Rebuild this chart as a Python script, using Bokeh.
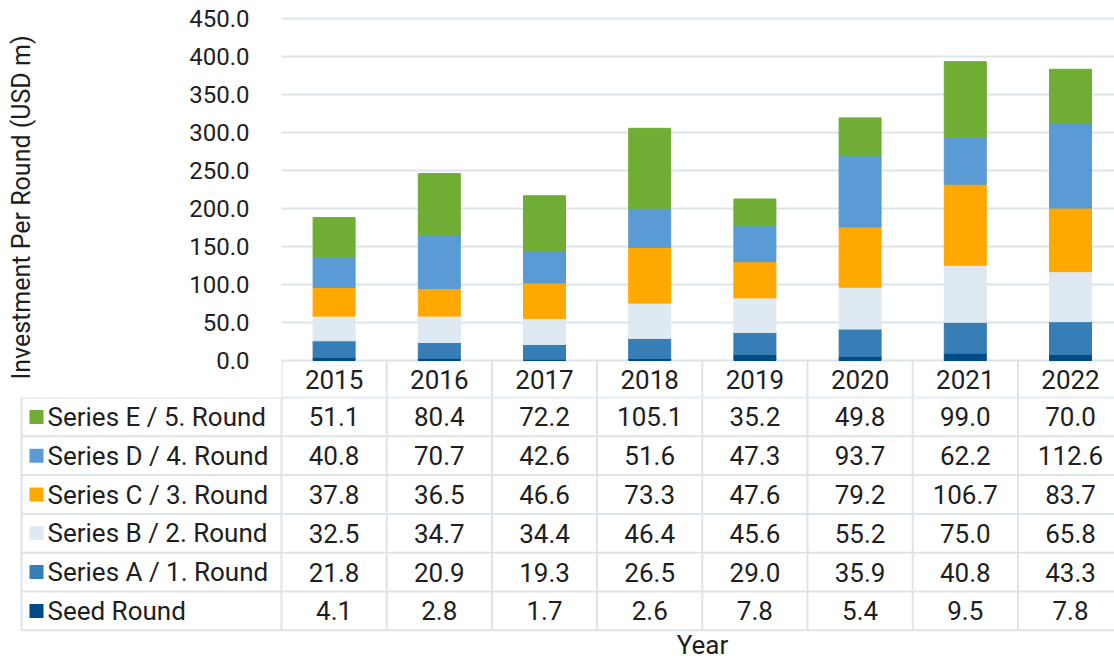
from bokeh.plotting import figure
from bokeh.layouts import column
from bokeh.models import Range1d, FixedTicker, NumeralTickFormatter, ColumnDataSource
from bokeh.core.properties import value
from bokeh.embed import file_html
from bokeh.resources import INLINE

# ---- data -------------------------------------------------------------
years = [2015, 2016, 2017, 2018, 2019, 2020, 2021, 2022]
seed_round = [4.1, 2.8, 1.7, 2.6, 7.8, 5.4, 9.5, 7.8]
series_a = [21.8, 20.9, 19.3, 26.5, 29.0, 35.9, 40.8, 43.3]
series_b = [32.5, 34.7, 34.4, 46.4, 45.6, 55.2, 75.0, 65.8]
series_c = [37.8, 36.5, 46.6, 73.3, 47.6, 79.2, 106.7, 83.7]
series_d = [40.8, 70.7, 42.6, 51.6, 47.3, 93.7, 62.2, 112.6]
series_e = [51.1, 80.4, 72.2, 105.1, 35.2, 49.8, 99.0, 70.0]

series_names = ["Seed Round", "Series A / 1. Round", "Series B / 2. Round",
                "Series C / 3. Round", "Series D / 4. Round", "Series E / 5. Round"]
series_colors = ["#004b87", "#377db6", "#dfe9f2", "#ffa800", "#5b9bd5", "#70ad34"]
y_ticks = [0, 50, 100, 150, 200, 250, 300, 350, 400, 450]

# ---- layout constants (pixels) ----------------------------------------
W = 1114
TOP_H = 397          # chart + header row of the table
BOT_H = 661 - TOP_H  # table body + x title
PLOT_LEFT = 281      # left edge of the plot area
PLOT_TOP = 17        # top edge of the plot frame
COL_W = 105.2        # width of one year column
PX_PER_UNIT = 0.76   # vertical scale of the value axis
ZERO_Y = 360         # pixel row of the value 0
ROW_H = 38.8         # table row height
TABLE_LEFT = 21

FONT = "Roboto"
TXT = "#1e1e1e"
GRID = "#dde4e9"
FS_TICK = "24px"
FS = "26px"

x0 = years[0] - 0.5
x_end = x0 + (W - PLOT_LEFT) / COL_W
y_start = -(TOP_H - ZERO_Y) / PX_PER_UNIT
y_end = (ZERO_Y - PLOT_TOP) / PX_PER_UNIT

keys = ["seed", "a", "b", "c", "d", "e"]
src = ColumnDataSource(dict(year=years, seed=seed_round, a=series_a, b=series_b,
                            c=series_c, d=series_d, e=series_e))

# ---- stacked bar chart -----------------------------------------------
p = figure(width=W, height=TOP_H, output_backend="svg", toolbar_location=None,
           x_range=Range1d(x0, x_end), y_range=Range1d(y_start, y_end),
           x_axis_location=None, min_border_left=PLOT_LEFT, min_border_right=0,
           min_border_top=PLOT_TOP, min_border_bottom=0, frame_align=False)
p.outline_line_color = None
p.xgrid.visible = False
p.ygrid.grid_line_color = GRID
p.ygrid.grid_line_width = 2

ax = p.yaxis[0]
ax.ticker = FixedTicker(ticks=y_ticks)
ax.formatter = NumeralTickFormatter(format="0.0")
ax.axis_line_color = None
ax.major_tick_line_color = None
ax.minor_tick_line_color = None
ax.major_label_standoff = 26
ax.major_label_text_font = FONT
ax.major_label_text_font_size = FS_TICK
ax.major_label_text_color = TXT
ax.axis_label = "Investment Per Round (USD m)"
ax.axis_label_text_font = FONT
ax.axis_label_text_font_size = "25px"
ax.axis_label_text_font_style = "normal"
ax.axis_label_text_color = TXT
ax.axis_label_standoff = 150

p.vbar_stack(keys, x="year", width=42 / COL_W, color=series_colors, source=src)

# header row of the data table (year labels)
col_edges = [x0 + k for k in range(len(years) + 1)]
p.segment(x0=col_edges, y0=[0] * len(col_edges), x1=col_edges,
          y1=[y_start] * len(col_edges), line_color=GRID, line_width=2)
p.segment(x0=[x0], y0=[y_start], x1=[x_end], y1=[y_start], line_color=GRID, line_width=2)
p.text(x=years, y=[y_start / 2] * len(years), text=[str(y) for y in years],
       text_align="center", text_baseline="middle", text_font=value(FONT),
       text_font_size=FS, text_color=TXT)

# ---- data table body --------------------------------------------------
px_left = x0 - PLOT_LEFT / COL_W
t = figure(width=W, height=BOT_H, output_backend="svg", toolbar_location=None,
           x_range=Range1d(px_left, x_end), y_range=Range1d(-BOT_H / ROW_H, 0),
           x_axis_location=None, y_axis_location=None,
           min_border=0, frame_align=False)
t.outline_line_color = None
t.grid.visible = False

n_rows = len(series_names)
tbl_left = px_left + TABLE_LEFT / COL_W
t.segment(x0=[tbl_left] * (n_rows + 1), y0=[-r for r in range(n_rows + 1)],
          x1=[x_end] * (n_rows + 1), y1=[-r for r in range(n_rows + 1)],
          line_color=GRID, line_width=2)
vx = [tbl_left] + col_edges
t.segment(x0=vx, y0=[0] * len(vx), x1=vx, y1=[-n_rows] * len(vx),
          line_color=GRID, line_width=2)

rows = [series_e, series_d, series_c, series_b, series_a, seed_round]
row_names = series_names[::-1]
row_colors = series_colors[::-1]
for r, (vals, name, col) in enumerate(zip(rows, row_names, row_colors)):
    yc = -(r + 0.5)
    t.scatter(x=[px_left + 36 / COL_W], y=[yc], marker="square", size=14,
              fill_color=col, line_color=None)
    t.text(x=[px_left + 47 / COL_W], y=[yc], text=[name], text_align="left",
           text_baseline="middle", text_font=value(FONT), text_font_size=FS,
           text_color=TXT)
    t.text(x=years, y=[yc] * len(years), text=[f"{v:.1f}" for v in vals],
           text_align="center", text_baseline="middle", text_font=value(FONT),
           text_font_size=FS, text_color=TXT)

t.text(x=[x0 + (W + 9 - PLOT_LEFT) / COL_W / 2], y=[-(644 - TOP_H) / ROW_H], text=["Year"],
       text_align="center", text_baseline="middle", text_font=value(FONT),
       text_font_size=FS, text_color=TXT)

layout = column(p, t, spacing=0)
open("out.html", "w").write(file_html(layout, INLINE))
